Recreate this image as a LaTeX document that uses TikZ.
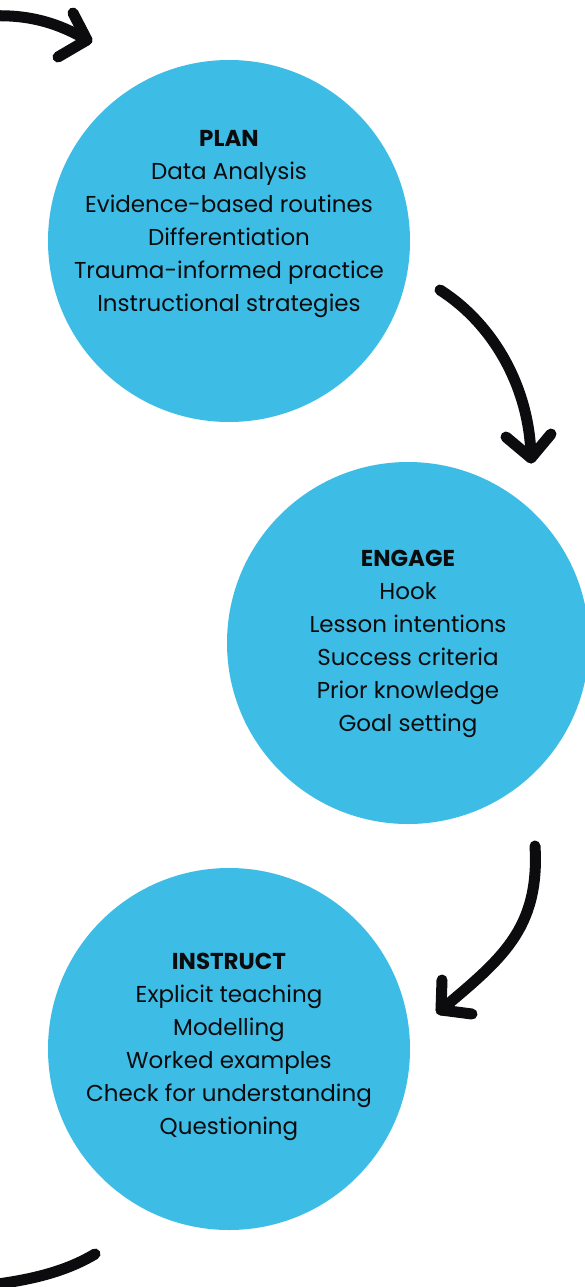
\documentclass[tikz,border=0pt]{standalone}
\usepackage{fontspec}
\setmainfont{Poppins}
\definecolor{bubble}{RGB}{61,189,230}
\definecolor{ink}{RGB}{12,12,14}
\tikzset{
  bubble/.style={circle, fill=bubble, minimum size=362pt, inner sep=0pt},
  lbl/.style={align=center, font=\fontsize{23}{33}\selectfont, text=ink},
  stroke/.style={draw=ink, line width=11pt, line cap=round, line join=round}
}
\begin{document}
\begin{tikzpicture}[x=1pt,y=-1pt]
\useasboundingbox (0,0) rectangle (585,1287);
\fill[white] (0,0) rectangle (585,1287);
\begin{scope}
\clip (0,0) rectangle (585,1287);
\node[bubble] (plan) at (229,241) {};
\node[bubble] (engage) at (408,643) {};
\node[bubble] (instruct) at (229,1049) {};
\end{scope}
\node[lbl] (plantext) at (229,224) {\textbf{PLAN}\\Data Analysis\\Evidence-based routines\\Differentiation\\Trauma-informed practice\\Instructional strategies};
\node[lbl] (engagetext) at (408,644) {\textbf{ENGAGE}\\Hook\\Lesson intentions\\Success criteria\\Prior knowledge\\Goal setting};
\node[lbl] (instructtext) at (229,1047) {\textbf{INSTRUCT}\\Explicit teaching\\Modelling\\Worked examples\\Check for understanding\\Questioning};
% top-left arrow
\coordinate (a1s) at (-10,16);
\coordinate (a1t) at (87,40);
\draw[stroke] (a1s) .. controls (30,14) and (60,24) .. (a1t);
\draw[stroke] (73,13) -- (a1t) -- (58,57);
% right arrow
\coordinate (a2s) at (440,290);
\coordinate (a2t) at (531,458);
\draw[stroke] (a2s) .. controls (495,325) and (530,390) .. (a2t);
\draw[stroke] (506,437) -- (a2t) -- (551,434);
% lower arrow
\coordinate (a3s) at (535,846);
\coordinate (a3t) at (441,1010);
\draw[stroke] (a3s) .. controls (540,930) and (500,960) .. (a3t);
\draw[stroke] (442,980) -- (a3t) -- (472,1014);
% bottom-left arrow
\coordinate (a4s) at (95,1254);
\coordinate (a4e) at (-10,1285);
\draw[stroke] (a4s) .. controls (65,1272) and (30,1280) .. (a4e);
\end{tikzpicture}
\end{document}
